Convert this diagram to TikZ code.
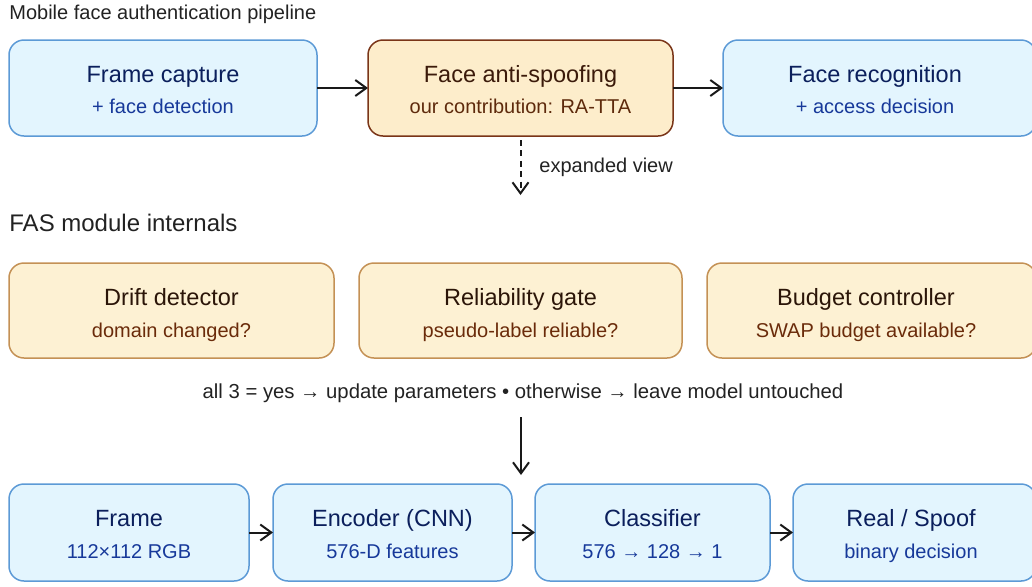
\documentclass[tikz,border=0pt]{standalone}
\usepackage{fontspec}
\setmainfont{Liberation Sans}
\usetikzlibrary{arrows.meta,calc}
\definecolor{bfill}{HTML}{E3F5FE}
\definecolor{bdraw}{HTML}{5C9AD6}
\definecolor{btitle}{HTML}{0B1F5C}
\definecolor{bsub}{HTML}{17399A}
\definecolor{ofill}{HTML}{FDEDCB}
\definecolor{odraw}{HTML}{7A3518}
\definecolor{otitle}{HTML}{3B1A0A}
\definecolor{osub}{HTML}{5E2A0C}
\definecolor{yfill}{HTML}{FDF1D3}
\definecolor{ydraw}{HTML}{C49155}
\definecolor{ytitle}{HTML}{2B1508}
\definecolor{ysub}{HTML}{6A2B0A}
\definecolor{hdr}{HTML}{222222}
\newcommand{\mkbox}[6]{\node[#6, anchor=north west, minimum width={(#4-#2)*0.5pt}, minimum height={(#5-#3)*0.5pt}] (#1) at (#2,#3) {};}
\tikzset{
  boxbase/.style={rectangle, rounded corners=7.5pt, line width=0.75pt, inner sep=0pt, outer sep=0pt},
  bluebox/.style={boxbase, fill=bfill, draw=bdraw},
  fasbox/.style={boxbase, fill=ofill, draw=odraw},
  modbox/.style={boxbase, fill=yfill, draw=ydraw},
  ttl/.style={anchor=base, inner sep=0pt, font=\fontsize{11.75}{14}\selectfont},
  sub/.style={anchor=base, inner sep=0pt, font=\fontsize{10}{12}\selectfont},
  hdrtext/.style={inner sep=0pt, text=hdr},
  arr/.style={line width=1pt, draw=black!90, -{Straight Barb[length=5.5pt,width=8pt]}},
}
\begin{document}
\begin{tikzpicture}[x=0.5pt,y=-0.5pt]
\path[use as bounding box] (0,0) rectangle (1032,586);
\clip (0,0) rectangle (1032,586);
% headers
\node[hdrtext, anchor=base west, font=\fontsize{10}{12}\selectfont] (h1) at (9,19) {Mobile face authentication pipeline};
\node[hdrtext, anchor=base west, font=\fontsize{12}{14}\selectfont] (h2) at (9,231) {FAS module internals};
% row 1
\mkbox{cap}{9}{40}{317}{136}{bluebox}
\mkbox{fas}{368}{40}{673}{136}{fasbox}
\mkbox{rec}{723}{40}{1036}{136}{bluebox}
\node[ttl, text=btitle] (capT) at (163,82) {Frame capture};
\node[sub, text=bsub] (capS) at (163,113) {+ face detection};
\node[ttl, text=otitle] (fasT) at (520.5,82) {Face anti-spoofing};
\node[sub, text=osub] (fasS) at (520.5,113) {our contribution: RA-TTA};
\node[ttl, text=btitle] (recT) at (875,82) {Face recognition};
\node[sub, text=bsub] (recS) at (875,113) {+ access decision};
\draw[arr] (cap.east) -- (fas.west);
\draw[arr] (fas.east) -- (rec.west);
\coordinate (dend) at (520.5,195);
\draw[arr, dash pattern=on 3pt off 2.2pt, shorten <=2pt] (fas.south) -- (dend);
\node[hdrtext, anchor=base west, font=\fontsize{10}{12}\selectfont] (ev) at (539,172) {expanded view};
% row 2
\mkbox{drift}{9}{263}{334}{358}{modbox}
\mkbox{rel}{359}{263}{682}{358}{modbox}
\mkbox{bud}{707}{263}{1036}{358}{modbox}
\node[ttl, text=ytitle] (driftT) at (171.5,305) {Drift detector};
\node[sub, text=ysub] (driftS) at (171.5,337) {domain changed?};
\node[ttl, text=ytitle] (relT) at (520.5,305) {Reliability gate};
\node[sub, text=ysub] (relS) at (520.5,337) {pseudo-label reliable?};
\node[ttl, text=ytitle] (budT) at (866,305) {Budget controller};
\node[sub, text=ysub] (budS) at (866,337) {SWAP budget available?};
\node[hdrtext, anchor=base, font=\fontsize{10.15}{12}\selectfont] (rule) at (523,398) {all 3 = yes → update parameters • otherwise → leave model untouched};
\coordinate (s1) at (521,417);
\coordinate (s2) at (521,475);
\draw[arr] (s1) -- (s2);
% row 3
\mkbox{frm}{9}{484}{249}{581}{bluebox}
\mkbox{enc}{273}{484}{512}{581}{bluebox}
\mkbox{cls}{535}{484}{770}{581}{bluebox}
\mkbox{rs}{793}{484}{1036}{581}{bluebox}
\node[ttl, text=btitle] (frmT) at (129,526) {Frame};
\node[sub, text=bsub] (frmS) at (129,558) {112×112 RGB};
\node[ttl, text=btitle] (encT) at (392.5,526) {Encoder (CNN)};
\node[sub, text=bsub] (encS) at (392.5,558) {576-D features};
\node[ttl, text=btitle] (clsT) at (652.5,526) {Classifier};
\node[sub, text=bsub] (clsS) at (652.5,558) {576 → 128 → 1};
\node[ttl, text=btitle] (rsT) at (911,526) {Real / Spoof};
\node[sub, text=bsub] (rsS) at (911,558) {binary decision};
\draw[arr] (frm.east) -- (enc.west);
\draw[arr] (enc.east) -- (cls.west);
\draw[arr] (cls.east) -- (rs.west);
\end{tikzpicture}
\end{document}
